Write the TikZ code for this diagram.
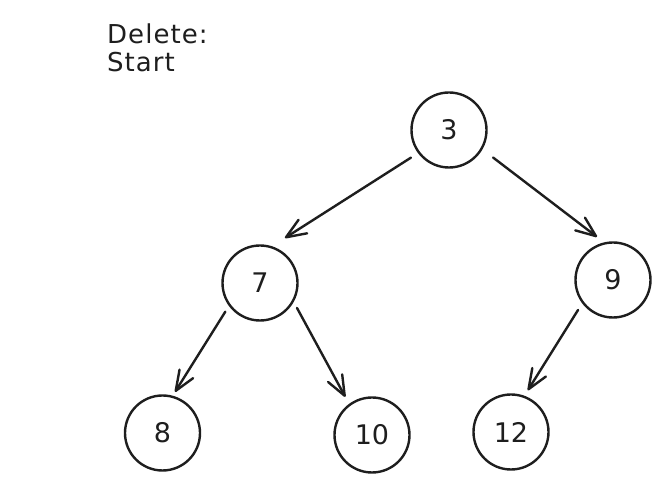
\documentclass[tikz,border=0pt]{standalone}
\usepackage{fontspec}
\setmainfont{DejaVu Sans}
\usetikzlibrary{arrows.meta,calc}
\definecolor{inkline}{HTML}{1E1E1E}
\begin{document}
\begin{tikzpicture}[x=1pt,y=1pt,
  treenode/.style={circle,draw=inkline,line width=2.4pt,minimum size=75pt,inner sep=0pt,
    text=inkline,font=\fontsize{27}{32}\selectfont},
  caption/.style={anchor=base west,inner sep=0pt,text=inkline,
    font=\fontsize{26}{30}\selectfont\addfontfeatures{LetterSpace=4}},
  link/.style={draw=inkline,line width=2.4pt,line cap=round,line join=round,
    -{Straight Barb[length=20pt,width=16pt,line width=2.4pt,round]}}]
\useasboundingbox (0,0) rectangle (659,479);

% heading
\node[caption] (hdelete) at (107,435) {Delete:};
\node[caption] (hstart) at (107,407) {Start};

% heap nodes
\node[treenode] (n3)  at (449,349) {3};
\node[treenode] (n7)  at (260,196) {7};
\node[treenode] (n9)  at (613,199) {9};
\node[treenode] (n8)  at (162.5,46) {8};
\node[treenode] (n10) at (372,44) {10};
\node[treenode] (n12) at (511,47) {12};

% parent -> child links
\draw[link] ($(n3)+(216:47)$)   -- ($(n7)+(61:51.5)$);
\draw[link] ($(n3)+(-32:52)$)   -- ($(n9)+(110.4:46)$);
\draw[link] ($(n7)+(219.6:45)$) -- ($(n8)+(73:43)$);
\draw[link] ($(n7)+(326:44.6)$) -- ($(n10)+(125:46.6)$);
\draw[link] ($(n9)+(220.6:46)$) -- ($(n12)+(68:45)$);
\end{tikzpicture}
\end{document}
